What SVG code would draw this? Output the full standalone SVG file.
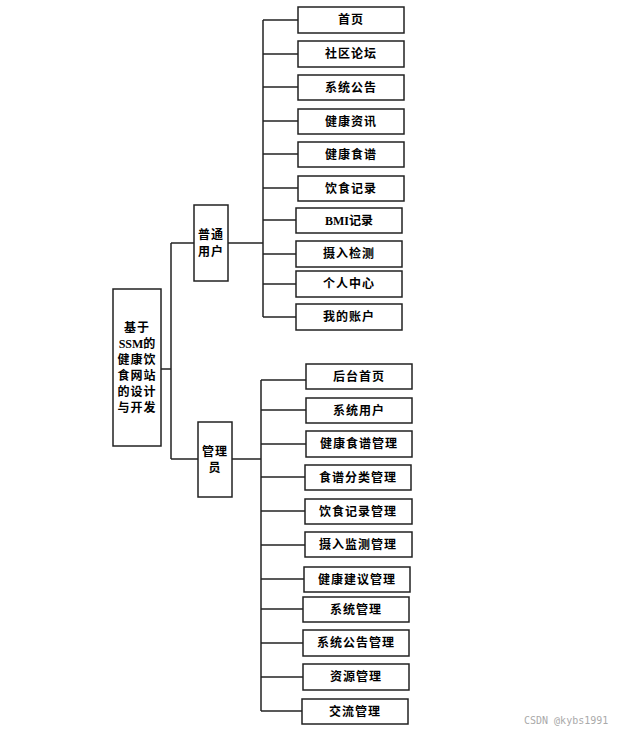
<svg xmlns="http://www.w3.org/2000/svg" width="625" height="732" viewBox="0 0 625 732">
<style>
rect{fill:#fff;stroke:#222;stroke-width:1.5}
text{font-family:"Liberation Serif","Noto Sans CJK SC",serif;font-weight:bold;font-size:12px;fill:#000;text-anchor:middle;letter-spacing:1px}
.c line{stroke:#222;stroke-width:1.5}
.wm{font-family:"DejaVu Sans Mono",monospace;font-weight:normal;font-size:10px;fill:#aaa;letter-spacing:0;text-anchor:start}
</style>
<rect x="0" y="0" width="625" height="732" style="stroke:none"/>
<g class="c">
<line x1="161" y1="369" x2="171" y2="369"/>
<line x1="171" y1="243" x2="171" y2="459"/>
<line x1="171" y1="243" x2="194" y2="243"/>
<line x1="171" y1="459" x2="198" y2="459"/>
<line x1="228" y1="243" x2="263" y2="243"/>
<line x1="263" y1="20" x2="263" y2="317"/>
<line x1="263" y1="20" x2="298" y2="20"/>
<line x1="263" y1="54" x2="298" y2="54"/>
<line x1="263" y1="87" x2="298" y2="87"/>
<line x1="263" y1="121" x2="298" y2="121"/>
<line x1="263" y1="154" x2="298" y2="154"/>
<line x1="263" y1="188" x2="298" y2="188"/>
<line x1="263" y1="220" x2="296" y2="220"/>
<line x1="263" y1="254" x2="296" y2="254"/>
<line x1="263" y1="284" x2="296" y2="284"/>
<line x1="263" y1="317" x2="296" y2="317"/>
<line x1="232" y1="459" x2="261" y2="459"/>
<line x1="261" y1="380" x2="261" y2="711"/>
<line x1="261" y1="380" x2="306" y2="380"/>
<line x1="261" y1="410" x2="306" y2="410"/>
<line x1="261" y1="444" x2="306" y2="444"/>
<line x1="261" y1="477" x2="305" y2="477"/>
<line x1="261" y1="511" x2="305" y2="511"/>
<line x1="261" y1="545" x2="305" y2="545"/>
<line x1="261" y1="579" x2="304" y2="579"/>
<line x1="261" y1="609" x2="303" y2="609"/>
<line x1="261" y1="643" x2="303" y2="643"/>
<line x1="261" y1="677" x2="303" y2="677"/>
<line x1="261" y1="711" x2="302" y2="711"/>
</g>
<g id="root"><rect x="113" y="289" width="48" height="157"/>
<text x="137" y="332">基于</text><text x="137" y="348" style="letter-spacing:0">SSM的</text><text x="137" y="364">健康饮</text><text x="137" y="380">食网站</text><text x="137" y="396">的设计</text><text x="137" y="412">与开发</text></g>
<g id="user"><rect x="194" y="205" width="34" height="76"/><text x="211" y="239">普通</text><text x="211" y="256">用户</text></g>
<g id="admin"><rect x="198" y="422" width="34" height="75"/><text x="215" y="456">管理</text><text x="215" y="472">员</text></g>
<g id="u1"><rect x="298" y="7" width="106" height="26"/><text x="351" y="24">首页</text></g>
<g id="u2"><rect x="298" y="41" width="106" height="26"/><text x="351" y="58">社区论坛</text></g>
<g id="u3"><rect x="298" y="75" width="106" height="25"/><text x="351" y="92">系统公告</text></g>
<g id="u4"><rect x="298" y="109" width="106" height="25"/><text x="351" y="126">健康资讯</text></g>
<g id="u5"><rect x="298" y="142" width="106" height="25"/><text x="351" y="159">健康食谱</text></g>
<g id="u6"><rect x="298" y="176" width="106" height="25"/><text x="351" y="193">饮食记录</text></g>
<g id="u7"><rect x="296" y="208" width="106" height="25"/><text x="349" y="225" style="letter-spacing:0">BMI记录</text></g>
<g id="u8"><rect x="296" y="241" width="106" height="26"/><text x="349" y="258">摄入检测</text></g>
<g id="u9"><rect x="296" y="271" width="106" height="26"/><text x="349" y="288">个人中心</text></g>
<g id="u10"><rect x="296" y="304" width="106" height="26"/><text x="349" y="321">我的账户</text></g>
<g id="a1"><rect x="306" y="364" width="106" height="25"/><text x="359" y="381">后台首页</text></g>
<g id="a2"><rect x="306" y="398" width="106" height="25"/><text x="359" y="415">系统用户</text></g>
<g id="a3"><rect x="306" y="431" width="106" height="26"/><text x="359" y="448">健康食谱管理</text></g>
<g id="a4"><rect x="305" y="465" width="106" height="25"/><text x="358" y="482">食谱分类管理</text></g>
<g id="a5"><rect x="305" y="499" width="107" height="25"/><text x="358" y="516">饮食记录管理</text></g>
<g id="a6"><rect x="305" y="532" width="107" height="25"/><text x="358" y="549">摄入监测管理</text></g>
<g id="a7"><rect x="304" y="567" width="106" height="25"/><text x="357" y="584">健康建议管理</text></g>
<g id="a8"><rect x="303" y="597" width="106" height="25"/><text x="356" y="614">系统管理</text></g>
<g id="a9"><rect x="303" y="630" width="106" height="26"/><text x="356" y="647">系统公告管理</text></g>
<g id="a10"><rect x="303" y="664" width="106" height="26"/><text x="356" y="681">资源管理</text></g>
<g id="a11"><rect x="302" y="699" width="106" height="25"/><text x="355" y="716">交流管理</text></g>
<text class="wm" x="524" y="724">CSDN @kybs1991</text>
</svg>
